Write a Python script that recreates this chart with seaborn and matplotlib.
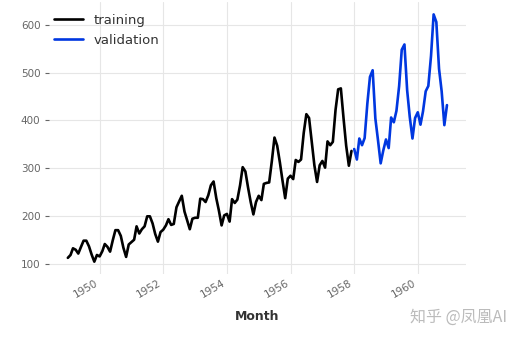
import numpy as np
import pandas as pd
import matplotlib
matplotlib.use("Agg")
import matplotlib.pyplot as plt
import matplotlib.dates as mdates
import seaborn as sns

# Monthly airline passengers (thousands), 1949-1960
years = list(range(1949, 1961))
passengers = [
    [112, 118, 132, 129, 121, 135, 148, 148, 136, 119, 104, 118],
    [115, 126, 141, 135, 125, 149, 170, 170, 158, 133, 114, 140],
    [145, 150, 178, 163, 172, 178, 199, 199, 184, 162, 146, 166],
    [171, 180, 193, 181, 183, 218, 230, 242, 209, 191, 172, 194],
    [196, 196, 236, 235, 229, 243, 264, 272, 237, 211, 180, 201],
    [204, 188, 235, 227, 234, 264, 302, 293, 259, 229, 203, 229],
    [242, 233, 267, 269, 270, 315, 364, 347, 312, 274, 237, 278],
    [284, 277, 317, 313, 318, 374, 413, 405, 355, 306, 271, 306],
    [315, 301, 356, 348, 355, 422, 465, 467, 404, 347, 305, 336],
    [340, 318, 362, 348, 363, 435, 491, 505, 404, 359, 310, 337],
    [360, 342, 406, 396, 420, 472, 548, 559, 463, 407, 362, 405],
    [417, 391, 419, 461, 472, 535, 622, 606, 508, 461, 390, 432],
]
split_date = "1958-01-01"
series_names = ["training", "validation"]
series_colors = ["#000000", "#0037E0"]

months = pd.date_range("1949-01-01", periods=12 * len(years), freq="MS")
values = np.array(passengers).ravel()
df = pd.DataFrame({"Month": months, "Passengers": values})
df["Series"] = np.where(df["Month"] < pd.Timestamp(split_date),
                        series_names[0], series_names[1])

sns.set_theme(style="whitegrid")
plt.rcParams["font.family"] = ["DejaVu Sans"]

fig = plt.figure(figsize=(5.2, 3.4), dpi=100)
ax = fig.add_axes([0.094, 0.194, 0.802, 0.80])

sns.lineplot(data=df, x="Month", y="Passengers", hue="Series",
             palette=dict(zip(series_names, series_colors)),
             linewidth=1.9, ax=ax)

for s in ax.spines.values():
    s.set_visible(False)
ax.grid(True, color="#e6e6e6", linewidth=0.8)
ax.set_axisbelow(True)

ax.xaxis.set_major_locator(mdates.YearLocator(2))
ax.xaxis.set_major_formatter(mdates.DateFormatter("%Y"))
ax.set_yticks([100, 200, 300, 400, 500, 600])

ax.tick_params(axis="both", colors="#666666", labelsize=7.5)
ax.tick_params(axis="y", left=True, length=3, width=0.8, pad=3,
               direction="out")
ax.tick_params(axis="x", bottom=False, length=0, pad=3)
for lbl in ax.get_xticklabels():
    lbl.set_rotation(30)
    lbl.set_ha("right")

ax.set_ylabel("")
ax.set_xlabel("Month", fontsize=9, fontweight="bold", color="#333333",
              labelpad=7)

leg = ax.legend(loc="upper left", frameon=False, fontsize=9.5,
                handlelength=2.2, borderaxespad=0.0, labelspacing=0.5,
                bbox_to_anchor=(0.0, 0.975))
for t in leg.get_texts():
    t.set_color("#333333")

fig.text(0.975, 0.068, "知乎 @凤凰AI", ha="right", va="center", fontsize=11.5,
         color="#bbbbbb", family=["Noto Sans CJK SC", "DejaVu Sans"])

fig.savefig("out.png", dpi=100, facecolor="white")
